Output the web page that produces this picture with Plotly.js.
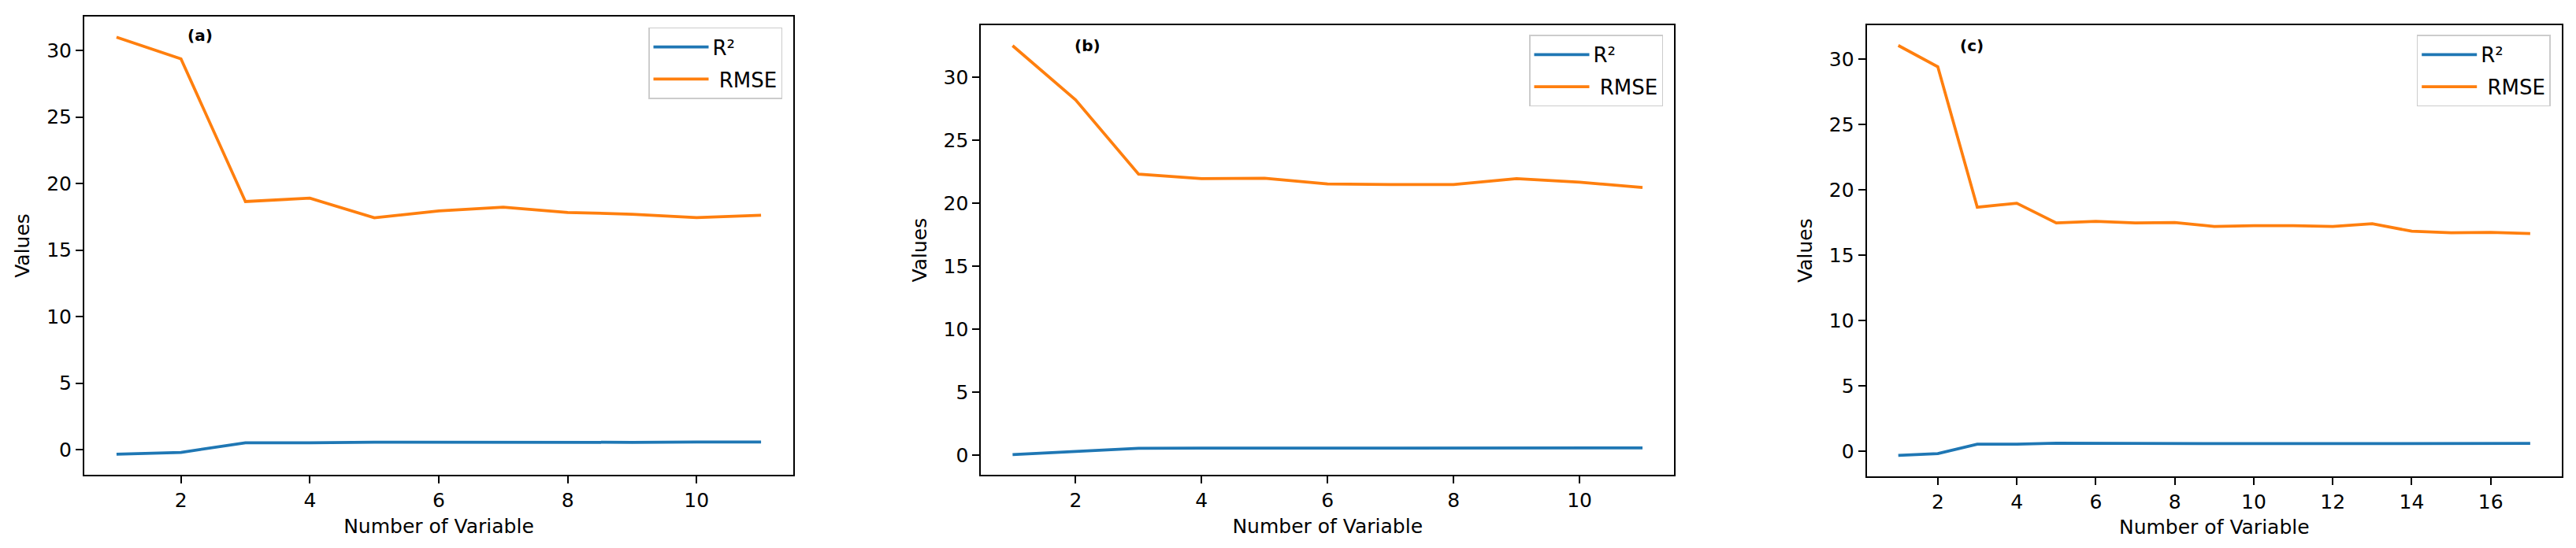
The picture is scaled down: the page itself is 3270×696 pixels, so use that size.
<!DOCTYPE html>
<html>
<head>
<meta charset="utf-8">
<script src="https://cdn.plot.ly/plotly-3.0.1.min.js"></script>
<style>html,body{margin:0;padding:0;background:#fff;}#chart{width:3270px;height:696px;}</style>
</head>
<body>
<div id="chart"></div>
<script>
// ---- data ----
const xA = [1, 2, 3, 4, 5, 6, 7, 8, 9, 10, 11];
const r2A = [-0.33, -0.2, 0.53, 0.52, 0.57, 0.56, 0.56, 0.56, 0.56, 0.58, 0.58];
const rmseA = [31.0, 29.37, 18.65, 18.9, 17.43, 17.95, 18.23, 17.83, 17.7, 17.44, 17.62];

const xB = [1, 2, 3, 4, 5, 6, 7, 8, 9, 10, 11];
const r2B = [0.04, 0.27, 0.54, 0.55, 0.55, 0.56, 0.56, 0.56, 0.55, 0.56, 0.57];
const rmseB = [32.5, 28.2, 22.3, 21.94, 21.98, 21.52, 21.47, 21.47, 21.94, 21.66, 21.24];

const xC = [1, 2, 3, 4, 5, 6, 7, 8, 9, 10, 11, 12, 13, 14, 15, 16, 17];
const r2C = [-0.34, -0.2, 0.52, 0.52, 0.6, 0.58, 0.57, 0.57, 0.57, 0.57, 0.57, 0.57, 0.57, 0.58, 0.58, 0.58, 0.58];
const rmseC = [31.04, 29.41, 18.66, 18.96, 17.46, 17.58, 17.46, 17.49, 17.19, 17.25, 17.25, 17.19, 17.4, 16.82, 16.71, 16.73, 16.65];

const panelLabels = ['(a)', '(b)', '(c)'];
const seriesNames = ['R²', '\u00a0RMSE'];
const xTitle = 'Number of Variable';
const yTitle = 'Values';

// ---- styling ----
const BLUE = '#1f77b4', ORANGE = '#ff7f0e';
const FONT = 'DejaVu Sans, Verdana, sans-serif';
const FS = 25;
const W = 3270, H = 696;

const panels = [
  {x: xA, r2: r2A, rmse: rmseA, px: [107, 1007], py: [20.7, 603.3], lab: [2.3, 31.1], leg: [993, 34.7]},
  {x: xB, r2: r2B, rmse: rmseB, px: [1245.4, 2125], py: [32, 603.3], lab: [2.19, 32.5], leg: [2111, 44.4]},
  {x: xC, r2: r2C, rmse: rmseC, px: [2369.6, 3252], py: [31.7, 604.5], lab: [2.86, 31.05], leg: [3237.7, 44.4]}
];

function padRange(lo, hi) { const m = (hi - lo) * 0.05; return [lo - m, hi + m]; }

const traces = [];
const layout = {
  width: W, height: H,
  margin: {l: 0, r: 0, t: 0, b: 0},
  paper_bgcolor: '#fff', plot_bgcolor: '#fff',
  font: {family: FONT, size: FS, color: '#000'},
  showlegend: true,
  annotations: []
};

panels.forEach((p, i) => {
  const n = i === 0 ? '' : String(i + 1);
  const xa = 'x' + n, ya = 'y' + n;
  const legName = i === 0 ? 'legend' : 'legend' + (i + 1);
  traces.push({x: p.x, y: p.r2, type: 'scatter', mode: 'lines', name: seriesNames[0],
    line: {color: BLUE, width: 3.75}, xaxis: xa, yaxis: ya, legend: legName, legendgroup: 'r2' + i});
  traces.push({x: p.x, y: p.rmse, type: 'scatter', mode: 'lines', name: seriesNames[1],
    line: {color: ORANGE, width: 3.75}, xaxis: xa, yaxis: ya, legend: legName, legendgroup: 'rmse' + i});

  const allY = p.r2.concat(p.rmse);
  const xr = padRange(Math.min(...p.x), Math.max(...p.x));
  const yr = padRange(Math.min(...allY), Math.max(...allY));
  const common = {
    showline: true, linecolor: '#000', linewidth: 2, mirror: true,
    ticks: 'outside', ticklen: 9, tickwidth: 2, tickcolor: '#000',
    showgrid: false, zeroline: false,
    tickfont: {family: FONT, size: FS, color: '#000'}
  };
  layout['xaxis' + n] = Object.assign({}, common, {
    anchor: ya, domain: [p.px[0] / W, p.px[1] / W], range: xr,
    tick0: 0, dtick: 2,
    title: {text: xTitle, font: {family: FONT, size: FS, color: '#000'}, standoff: 10}
  });
  layout['yaxis' + n] = Object.assign({}, common, {
    anchor: xa, domain: [(H - p.py[1]) / H, (H - p.py[0]) / H], range: yr,
    tick0: 0, dtick: 5,
    title: {text: yTitle, font: {family: FONT, size: FS, color: '#000'}, standoff: 14}
  });
  layout[legName] = {
    x: p.leg[0] / W, y: (H - p.leg[1]) / H, xanchor: 'right', yanchor: 'top',
    xref: 'paper', yref: 'paper',
    bgcolor: 'rgba(255,255,255,0.8)', bordercolor: '#cccccc', borderwidth: 1.5,
    font: {family: FONT, size: 26, color: '#000'}, itemwidth: 70,
    tracegroupgap: 4
  };
  layout.annotations.push({
    xref: xa, yref: ya, x: p.lab[0], y: p.lab[1], text: '<b>' + panelLabels[i] + '</b>',
    showarrow: false, font: {family: FONT, size: 20, color: '#000'}, xanchor: 'center', yanchor: 'middle'
  });
});

Plotly.newPlot('chart', traces, layout, {displayModeBar: false, staticPlot: true});
</script>
</body>
</html>
